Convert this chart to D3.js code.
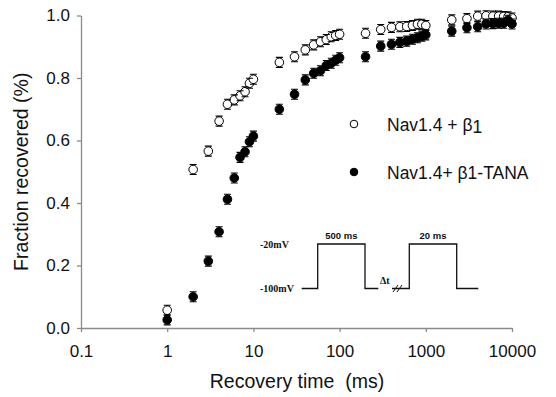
<!DOCTYPE html>
<html>
<head>
<meta charset="utf-8">
<script src="https://cdn.jsdelivr.net/npm/d3@7"></script>
<style>
  body { margin: 0; background: #fff; }
  svg { display: block; font-family: Arial, "Liberation Sans", sans-serif; }
</style>
</head>
<body>
<div id="chart"></div>
<script>
// recovery intervals (ms)
const times = [1, 2, 3, 4, 5, 6, 7, 8, 9, 10,
  20, 30, 40, 50, 60, 70, 80, 90, 100,
  200, 300, 400, 500, 600, 700, 800, 900, 1000,
  2000, 3000, 4000, 5000, 6000, 7000, 8000, 9000, 10000];

// Nav1.4 + b1 (open)
const wtValues = [0.057, 0.507, 0.566, 0.662, 0.716, 0.730, 0.743, 0.756, 0.783, 0.796,
  0.850, 0.868, 0.890, 0.906, 0.916, 0.923, 0.932, 0.936, 0.940,
  0.943, 0.955, 0.962, 0.964, 0.965, 0.968, 0.972, 0.972, 0.968,
  0.986, 0.990, 0.998, 0.999, 0.998, 0.998, 0.997, 0.996, 0.992];

// Nav1.4 + b1-TANA (filled)
const tanaValues = [0.026, 0.100, 0.214, 0.308, 0.412, 0.480, 0.546, 0.564, 0.596, 0.614,
  0.700, 0.748, 0.794, 0.815, 0.823, 0.840, 0.847, 0.857, 0.865,
  0.868, 0.902, 0.908, 0.914, 0.918, 0.924, 0.929, 0.934, 0.938,
  0.950, 0.961, 0.964, 0.973, 0.974, 0.975, 0.975, 0.985, 0.973];

const semValue = 0.016;

const xTicks = [0.1, 1, 10, 100, 1000, 10000];
const yTicks = [0, 0.2, 0.4, 0.6, 0.8, 1.0];

const width = 556, height = 397;
const margin = { top: 15.5, right: 44, bottom: 69, left: 81 };

const svg = d3.select("#chart").append("svg")
  .attr("width", width)
  .attr("height", height);

const x = d3.scaleLog()
  .domain([0.1, 10000])
  .range([margin.left, width - margin.right]);

const y = d3.scaleLinear()
  .domain([0, 1])
  .range([height - margin.bottom, margin.top]);

const axisColor = "#8a8a8a";

// axes
const xAxis = svg.append("g")
  .attr("transform", `translate(0,${height - margin.bottom})`)
  .call(d3.axisBottom(x).tickValues(xTicks).tickFormat(d3.format("~g"))
    .tickSize(4).tickSizeOuter(0).tickPadding(13));

const yAxis = svg.append("g")
  .attr("transform", `translate(${margin.left},0)`)
  .call(d3.axisLeft(y).tickValues(yTicks).tickFormat(d3.format(".1f"))
    .tickSize(4).tickSizeOuter(0).tickPadding(7));

[xAxis, yAxis].forEach(g => {
  g.select(".domain").attr("stroke", axisColor).attr("stroke-width", 1.3);
  g.selectAll(".tick line").attr("stroke", axisColor).attr("stroke-width", 1.3);
  g.selectAll(".tick text").attr("font-size", 17).attr("fill", "#111")
    .attr("font-family", "Arial, 'Liberation Sans', sans-serif");
});

// axis titles
svg.append("text")
  .attr("x", 297)
  .attr("y", 388)
  .attr("text-anchor", "middle")
  .attr("font-size", 19.5)
  .attr("fill", "#111")
  .attr("xml:space", "preserve")
  .text("Recovery time  (ms)");

svg.append("text")
  .attr("transform", `translate(28,${(y.range()[0] + y.range()[1]) / 2}) rotate(-90)`)
  .attr("text-anchor", "middle")
  .attr("font-size", 19.5)
  .attr("fill", "#111")
  .text("Fraction recovered (%)");

// data series
const series = [
  { name: "wt", values: wtValues, fill: "#fff" },
  { name: "tana", values: tanaValues, fill: "#000" },
];

series.forEach(s => {
  const pts = times.map((t, i) => ({ t, v: s.values[i] }));
  const g = svg.append("g").attr("class", `series-${s.name}`);

  g.selectAll("circle")
    .data(pts)
    .enter()
    .append("circle")
    .attr("cx", d => x(d.t))
    .attr("cy", d => y(d.v))
    .attr("r", 4.3)
    .attr("fill", s.fill)
    .attr("stroke", "#000")
    .attr("stroke-width", 1);

  // error bars (caps show just past the marker)
  g.selectAll("path.err")
    .data(pts)
    .enter()
    .append("path")
    .attr("class", "err")
    .attr("d", d => {
      const cx = x(d.t), y0 = y(d.v - semValue), y1 = y(d.v + semValue);
      return `M${cx - 3.5},${y0}H${cx + 3.5}M${cx},${y0}V${y(d.v) + 4.3}M${cx},${y(d.v) - 4.3}V${y1}M${cx - 3.5},${y1}H${cx + 3.5}`;
    })
    .attr("stroke", "#000")
    .attr("stroke-width", 1.1)
    .attr("fill", "none");
});

// legend
const legend = svg.append("g").attr("transform", "translate(354,124)");
legend.append("circle").attr("r", 3.8).attr("fill", "#fff").attr("stroke", "#000").attr("stroke-width", 1);
const l1 = legend.append("text").attr("x", 33).attr("y", 7).attr("font-size", 17.5).attr("fill", "#111");
l1.append("tspan").text("Nav1.4 + β");
l1.append("tspan").attr("dy", 2).text("1");

legend.append("circle").attr("cy", 48).attr("r", 3.8).attr("fill", "#000").attr("stroke", "#000");
legend.append("text").attr("x", 33).attr("y", 55).attr("font-size", 17.5).attr("fill", "#111")
  .text("Nav1.4+ β1-TANA");

// voltage protocol inset
const inset = svg.append("g");
const high = 244, low = 288.5;
const pulses = [
  { x0: 301.7, up: 317.7, down: 365, x1: 378.3, label: "500 ms" },
  { x0: 392, up: 409.3, down: 456.7, x1: 478.3, label: "20 ms" },
];
pulses.forEach(p => {
  inset.append("path")
    .attr("d", `M${p.x0},${low}H${p.up}V${high}H${p.down}V${low}H${p.x1}`)
    .attr("fill", "none")
    .attr("stroke", "#111")
    .attr("stroke-width", 1.3);
  inset.append("text")
    .attr("x", (p.up + p.down) / 2)
    .attr("y", high - 5)
    .attr("text-anchor", "middle")
    .attr("font-size", 9.5)
    .attr("font-weight", "bold")
    .attr("fill", "#111")
    .text(p.label);
});
inset.append("path")
  .attr("d", "M393,292L398,285M397,292L402,285")
  .attr("stroke", "#111").attr("stroke-width", 1);

const serif = "'Liberation Serif', 'Times New Roman', serif";
inset.append("text").attr("x", 260).attr("y", 248).attr("font-size", 10)
  .attr("font-weight", "bold").attr("font-family", serif).attr("fill", "#111").text("-20mV");
inset.append("text").attr("x", 260).attr("y", 292).attr("font-size", 10)
  .attr("font-weight", "bold").attr("font-family", serif).attr("fill", "#111").text("-100mV");
inset.append("text").attr("x", 380).attr("y", 284).attr("font-size", 10)
  .attr("font-weight", "bold").attr("font-family", serif).attr("fill", "#111").text("Δt");
</script>
</body>
</html>
